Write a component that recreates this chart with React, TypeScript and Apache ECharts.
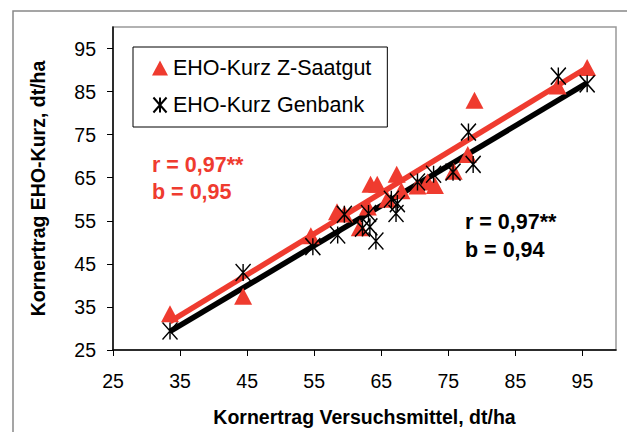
import React, { useEffect, useRef } from "react";
import * as echarts from "echarts";

const RED = "#ef3b2f";

const tickValues = [25, 35, 45, 55, 65, 75, 85, 95];

const saatgutX = [33.5, 44.4, 54.5, 58.4, 59.5, 61.8, 63.0, 63.4, 64.4, 65.9, 67.3, 68.0, 70.4, 71.9, 73.0, 75.8, 77.9, 78.9, 91.3, 95.7];
const saatgutY = [33.4, 37.5, 51.5, 57.1, 56.6, 53.4, 58.2, 63.5, 63.5, 60.0, 65.8, 62.0, 63.1, 64.0, 63.2, 66.5, 70.4, 83.0, 86.3, 90.6];

const genbankX = [33.5, 44.4, 54.8, 58.5, 59.5, 62.2, 63.1, 63.3, 64.2, 66.5, 67.2, 67.4, 70.4, 72.8, 75.7, 78.0, 78.7, 91.4, 95.7];
const genbankY = [29.4, 43.0, 49.0, 51.7, 56.5, 53.3, 56.7, 53.6, 50.3, 60.0, 56.7, 59.0, 64.0, 65.8, 66.3, 75.6, 68.1, 88.6, 86.8];

const saatgutFitX = [33.5, 95.7];
const saatgutFitY = [31.6, 90.6];
const genbankFitX = [33.5, 95.7];
const genbankFitY = [29.3, 87.0];

const redStats = ["r = 0,97**", "b = 0,95"];
const blackStats = ["r = 0,97**", "b = 0,94"];

const STAR = "path://M0,0L14,16M14,0L0,16M7,0L7,16";

const zip = (xs: number[], ys: number[]) => xs.map((x, i) => [x, ys[i]]);

export default function App() {
  const ref = useRef<HTMLDivElement>(null);
  useEffect(() => {
    if (!ref.current) return;
    const chart = echarts.init(ref.current, null, { renderer: "svg" });
    const font = "'Liberation Sans', Arial, sans-serif";
    chart.setOption({
      animation: false,
      textStyle: { fontFamily: font },
      grid: {
        left: 113,
        right: 11,
        top: 27,
        bottom: 78,
        show: true,
        borderColor: "#999",
        borderWidth: 1.5,
        backgroundColor: "transparent",
      },
      legend: {
        left: 133,
        top: 47,
        orient: "vertical",
        borderColor: "#000",
        borderWidth: 1,
        padding: [10, 16, 11, 19],
        itemGap: 15,
        itemWidth: 16,
        itemHeight: 15,
        textStyle: { fontSize: 21.5, color: "#000", fontFamily: font },
        data: ["EHO-Kurz Z-Saatgut", "EHO-Kurz Genbank"],
      },
      xAxis: {
        type: "value",
        min: 25,
        max: 100,
        name: "Kornertrag Versuchsmittel, dt/ha",
        nameLocation: "middle",
        nameGap: 57,
        nameTextStyle: { fontSize: 19.5, fontWeight: "bold", color: "#000", fontFamily: font },
        axisLine: { lineStyle: { color: "#000", width: 1.5 } },
        axisTick: { show: true, length: 6, lineStyle: { color: "#000" }, customValues: tickValues },
        axisLabel: { fontSize: 19.5, color: "#000", margin: 21, customValues: tickValues },
        splitLine: { show: false },
      },
      yAxis: {
        type: "value",
        min: 25,
        max: 100,
        name: "Kornertrag EHO-Kurz, dt/ha",
        nameLocation: "middle",
        nameGap: 65,
        nameTextStyle: { fontSize: 19.5, fontWeight: "bold", color: "#000", fontFamily: font },
        axisLine: { show: true, lineStyle: { color: "#000", width: 1.5 } },
        axisTick: { show: true, length: 6, lineStyle: { color: "#000" }, customValues: tickValues },
        axisLabel: { fontSize: 19.5, color: "#000", margin: 17, customValues: tickValues },
        splitLine: { show: false },
      },
      series: [
        {
          type: "line",
          data: zip(saatgutFitX, saatgutFitY),
          showSymbol: false,
          lineStyle: { color: RED, width: 5.5 },
          z: 1,
          silent: true,
        },
        {
          type: "line",
          data: zip(genbankFitX, genbankFitY),
          showSymbol: false,
          lineStyle: { color: "#000", width: 5.5 },
          z: 1,
          silent: true,
        },
        {
          name: "EHO-Kurz Z-Saatgut",
          type: "scatter",
          symbol: "triangle",
          symbolSize: [18, 17],
          itemStyle: { color: RED, opacity: 1 },
          data: zip(saatgutX, saatgutY),
          z: 3,
        },
        {
          name: "EHO-Kurz Genbank",
          type: "scatter",
          symbol: STAR,
          symbolSize: [15, 17],
          itemStyle: { color: "rgba(0,0,0,0)", borderColor: "#000", borderWidth: 1.5, opacity: 1 },
          data: zip(genbankX, genbankY),
          z: 4,
        },
      ],
      graphic: [
        {
          type: "rect",
          shape: { x: 13, y: 11, width: 800, height: 600 },
          style: { fill: "none", stroke: "#888", lineWidth: 1.5 },
          z: -1,
          silent: true,
        },
        {
          type: "text",
          x: 152,
          y: 165,
          style: { text: redStats[0], fill: RED, font: `bold 21.5px ${font}`, verticalAlign: "middle" },
        },
        {
          type: "text",
          x: 152,
          y: 192,
          style: { text: redStats[1], fill: RED, font: `bold 21.5px ${font}`, verticalAlign: "middle" },
        },
        {
          type: "text",
          x: 465,
          y: 222,
          style: { text: blackStats[0], fill: "#000", font: `bold 21.5px ${font}`, verticalAlign: "middle" },
        },
        {
          type: "text",
          x: 465,
          y: 250,
          style: { text: blackStats[1], fill: "#000", font: `bold 21.5px ${font}`, verticalAlign: "middle" },
        },
      ],
    });
    return () => chart.dispose();
  }, []);
  return (
    <div
      ref={ref}
      style={{ position: "fixed", left: 0, top: 0, width: 627, height: 432, background: "#fff" }}
    />
  );
}
